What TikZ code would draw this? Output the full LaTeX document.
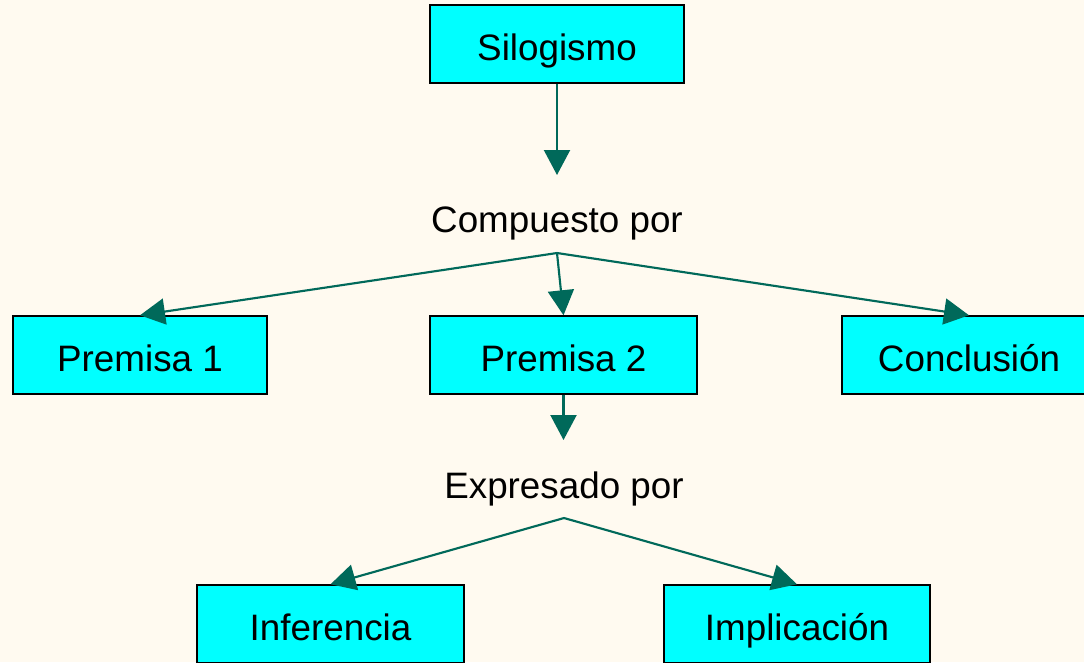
\documentclass[tikz,border=0pt]{standalone}
\usepackage{fontspec}
\setmainfont{Liberation Sans}
\usetikzlibrary{arrows.meta}
\definecolor{bgc}{RGB}{255,250,240}
\definecolor{linec}{RGB}{0,105,90}
\definecolor{boxc}{RGB}{0,255,255}
\begin{document}
\begin{tikzpicture}[x=0.75pt,y=-0.75pt,
  box/.style={draw=black,line width=1.1pt,fill=boxc,inner sep=0pt,
    text height=25pt,text depth=0pt,
    minimum height=58.5pt,font=\fontsize{27.6}{30}\selectfont},
  lbl/.style={inner sep=0pt,text height=25pt,text depth=0pt,
    font=\fontsize{27.6}{30}\selectfont},
  conn/.style={draw=linec,line width=1.6pt,
    -{Triangle[length=18.75pt,width=19.5pt,fill=linec]}}]
\useasboundingbox (0,0) rectangle (1084,662);
\clip (0,0) rectangle (1084,662);
\fill[bgc] (0,0) rectangle (1084,662);
% boxes
\node[box,minimum width=190.5pt] (s) at (557,44) {Silogismo};
\node[box,minimum width=190.5pt] (p1) at (140,355) {Premisa 1};
\node[box,minimum width=200.25pt] (p2) at (563.5,355) {Premisa 2};
\node[box,minimum width=190.5pt] (c) at (969,355) {Conclusión};
\node[box,minimum width=200.25pt] (inf) at (330.5,624) {Inferencia};
\node[box,minimum width=199.5pt] (imp) at (797,624) {Implicación};
% labels
\node[lbl] (l1) at (557,216) {Compuesto por};
\node[lbl] (l2) at (564,482) {Expresado por};
% connector points
\coordinate (t1) at (557,175);
\coordinate (j1) at (557,253);
\coordinate (t2) at (563.5,440);
\coordinate (j2) at (564,518);
% connectors
\draw[conn] (s.south) -- (t1);
\draw[conn] (j1) -- (p1.north);
\draw[conn] (j1) -- (p2.north);
\draw[conn] (j1) -- (c.north);
\draw[conn] (p2.south) -- (t2);
\draw[conn] (j2) -- (inf.north);
\draw[conn] (j2) -- (imp.north);
\end{tikzpicture}
\end{document}
